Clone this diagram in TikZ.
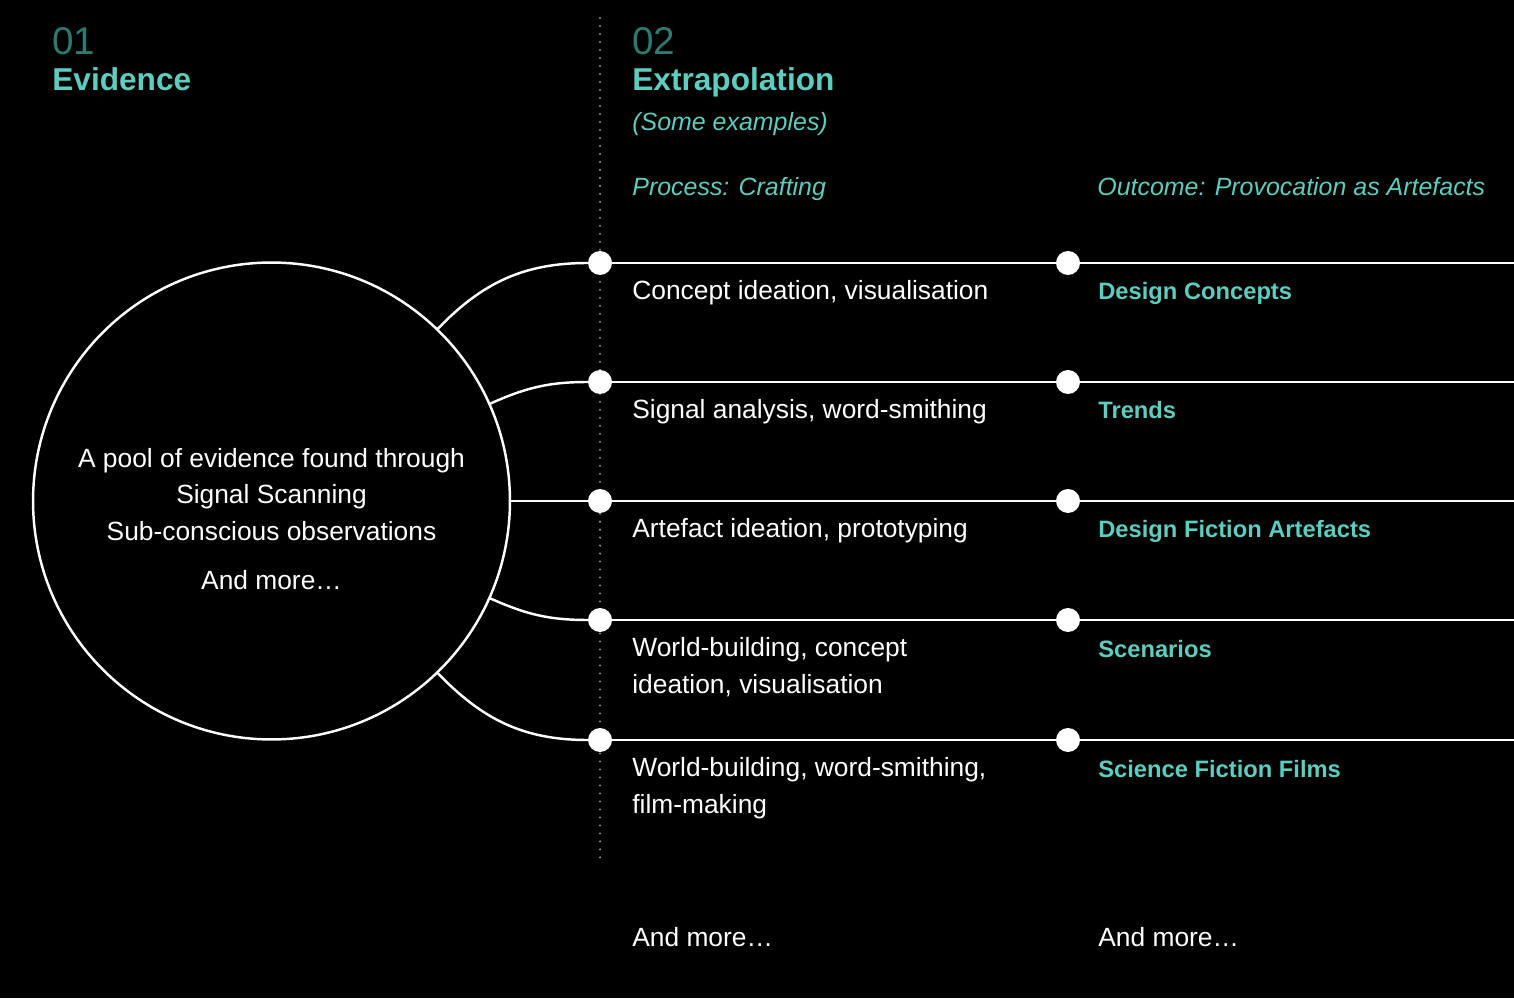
\documentclass[tikz,border=0pt]{standalone}
\usepackage{fontspec}
\setsansfont{Liberation Sans}
\usepackage{tikz}
\usetikzlibrary{positioning}
\definecolor{evTeal}{HTML}{5CCDBE}
\definecolor{evDeep}{HTML}{2E7A70}
\definecolor{evGuide}{HTML}{8C8C8C}
\tikzset{
  ev diagram/.style={font=\sffamily, text=white,
    line cap=round, line join=round},
  ev line/.style={draw=white, line width=1.4pt},
  ev dot/.style={circle, fill=white, inner sep=0pt, minimum size=0.48cm},
  ev pool/.style={circle, draw=white, line width=1.4pt, inner sep=0pt,
    minimum size=9.54cm},
  ev guide/.style={draw=evGuide, line width=1.3pt, dash pattern=on 0pt off 4.55pt},
  ev text/.style={font=\sffamily\fontsize{15}{20.8}\selectfont, text=white,
    inner sep=0pt, anchor=base west, align=left},
  ev outcome/.style={ev text, font=\sffamily\bfseries\fontsize{13.5}{20.8}\selectfont,
    text=evTeal},
  ev num/.style={font=\sffamily\fontsize{22}{24}\selectfont, text=evDeep,
    inner sep=0pt, anchor=base west},
  ev title/.style={font=\sffamily\bfseries\fontsize{18}{20}\selectfont, text=evTeal,
    inner sep=0pt, anchor=base west},
  ev note/.style={font=\sffamily\itshape\fontsize{14.2}{16}\selectfont, text=evTeal,
    inner sep=0pt, anchor=base west}
}
\begin{document}
\begin{tikzpicture}[ev diagram,x=0.02cm,y=0.02cm]
\fill[black] (0,0) rectangle (1514,998);
\useasboundingbox (0,0) rectangle (1514,998);
% guide between the two columns
\coordinate (guide top) at (600,980);
\coordinate (guide bottom) at (600,140);
\draw[ev guide] (guide top) -- (guide bottom);
% evidence pool
\node[ev pool] (pool) at (271.5,497) {};
\node[ev text,anchor=center,align=center] (pool text) at (271.5,479)
  {A pool of evidence found through\\Signal Scanning\\Sub-conscious observations\\[7pt]And more…};
% rows: process dot, outcome dot, free end
\foreach \i/\y in {1/735,2/616,3/497,4/378,5/258} {
  \node[ev dot] (p\i) at (600,\y) {};
  \node[ev dot] (q\i) at (1068,\y) {};
  \coordinate (e\i) at (1514,\y);
  \draw[ev line] (p\i) -- (q\i) -- (e\i);
}
\draw[ev line] (pool.46) to[out=46,in=180] (p1);
\draw[ev line] (pool.24) to[out=24,in=180] (p2);
\draw[ev line] (pool.east) -- (p3);
\draw[ev line] (pool.-24) to[out=-24,in=180] (p4);
\draw[ev line] (pool.-46) to[out=-46,in=180] (p5);
% headings
\node[ev num] (num ev) at (52,943) {01};
\node[ev title] (title ev) at (52,907) {Evidence};
\node[ev num] (num ex) at (632,943) {02};
\node[ev title] (title ex) at (632,907) {Extrapolation};
\node[ev note] (examples) at (632,867) {(Some examples)};
\node[ev note] (process) at (632,802) {Process: Crafting};
\node[ev note] (outcome) at (1097,802) {Outcome: Provocation as Artefacts};
% row labels (base sits on the last line)
\node[ev text] (craft1) at (632,698) {Concept ideation, visualisation};
\node[ev outcome] (out1) at (1098,698) {Design Concepts};
\node[ev text] (craft2) at (632,579) {Signal analysis, word-smithing};
\node[ev outcome] (out2) at (1098,579) {Trends};
\node[ev text] (craft3) at (632,460) {Artefact ideation, prototyping};
\node[ev outcome] (out3) at (1098,460) {Design Fiction Artefacts};
\node[ev text] (craft4) at (632,305) {World-building, concept\\ideation, visualisation};
\node[ev outcome] (out4) at (1098,341) {Scenarios};
\node[ev text] (craft5) at (632,185) {World-building, word-smithing,\\film-making};
\node[ev outcome] (out5) at (1098,221) {Science Fiction Films};
\node[ev text] (more craft) at (632,52) {And more…};
\node[ev text] (more out) at (1098,52) {And more…};
\end{tikzpicture}
\end{document}
